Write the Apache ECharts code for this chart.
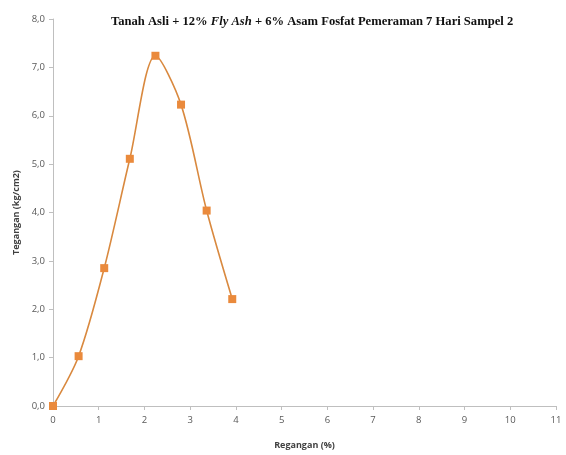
<!DOCTYPE html>
<html>
<head>
<meta charset="utf-8">
<script src="https://cdn.jsdelivr.net/npm/echarts@6/dist/echarts.min.js"></script>
<style>
  html, body { margin: 0; padding: 0; background: #fff; }
  #chart { width: 566px; height: 455px; }
</style>
</head>
<body>
<div id="chart"></div>
<script>
// Strain (%) and stress (kg/cm2) readings
const regangan = [0, 0.56, 1.12, 1.68, 2.24, 2.80, 3.36, 3.92];
const tegangan = [0, 1.03, 2.85, 5.11, 7.24, 6.23, 4.04, 2.21];

const xTicks = { min: 0, max: 11, interval: 1 };
const yTicks = { min: 0, max: 8, interval: 1 };

const points = regangan.map((x, i) => [x, tegangan[i]]);

const chart = echarts.init(document.getElementById('chart'));
const axisGrey = '#bfbfbf';
const labelGrey = '#595959';

chart.setOption({
  animation: false,
  title: {
    text: '{n|Tanah Asli + 12% }{i|Fly Ash}{n| + 6% Asam Fosfat Pemeraman 7 Hari Sampel 2}',
    left: 106,
    top: 10,
    textStyle: {
      rich: {
        n: { fontFamily: 'Liberation Serif', fontWeight: 'bold', fontSize: 12.6, color: '#111' },
        i: { fontFamily: 'Liberation Serif', fontWeight: 'bold', fontStyle: 'italic', fontSize: 12.6, color: '#111' }
      }
    }
  },
  grid: { left: 53, right: 10, top: 19, bottom: 48 },
  xAxis: {
    type: 'value',
    min: xTicks.min, max: xTicks.max, interval: xTicks.interval,
    name: 'Regangan (%)',
    nameLocation: 'middle',
    nameGap: 35,
    nameTextStyle: { fontFamily: 'Open Sans', fontWeight: 'bold', fontSize: 9, color: '#404040' },
    axisLine: { lineStyle: { color: axisGrey, width: 1 } },
    axisTick: { show: true, length: 4, lineStyle: { color: axisGrey } },
    axisLabel: { color: labelGrey, fontFamily: 'Open Sans', fontSize: 9.5, margin: 9 },
    splitLine: { show: false }
  },
  yAxis: {
    type: 'value',
    min: yTicks.min, max: yTicks.max, interval: yTicks.interval,
    name: 'Tegangan (kg/cm2)',
    nameLocation: 'middle',
    nameGap: 32,
    nameTextStyle: { fontFamily: 'Open Sans', fontWeight: 'bold', fontSize: 9, color: '#404040' },
    axisLine: { show: true, lineStyle: { color: axisGrey, width: 1 } },
    axisTick: { show: true, length: 4, lineStyle: { color: axisGrey } },
    axisLabel: {
      color: labelGrey, fontFamily: 'Open Sans', fontSize: 9.5, margin: 8,
      formatter: v => v.toFixed(1).replace('.', ',')
    },
    splitLine: { show: false }
  },
  series: [{
    type: 'line',
    data: points,
    smooth: 0.3,
    symbol: 'rect',
    symbolSize: 8,
    itemStyle: { color: '#EA8A3C' },
    lineStyle: { color: '#D9893F', width: 1.6 }
  }]
});
</script>
</body>
</html>
